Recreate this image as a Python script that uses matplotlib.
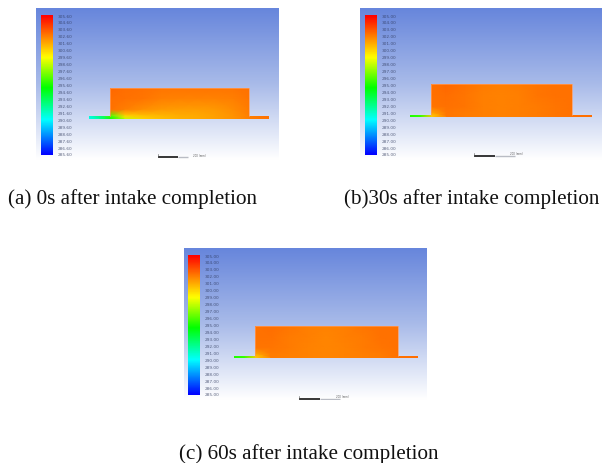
import numpy as np
import matplotlib
matplotlib.use('Agg')
import matplotlib.pyplot as plt
from matplotlib.colors import LinearSegmentedColormap
from matplotlib.patches import Polygon

# temperature labels on the colour bars
labels_a = ['305.60', '304.60', '303.60', '302.60', '301.60', '300.60', '299.60', '298.60', '297.60', '296.60', '295.60',
            '294.60', '293.60', '292.60', '291.60', '290.60', '289.60', '288.60', '287.60', '286.60', '285.60']
labels_bc = ['305.00', '304.00', '303.00', '302.00', '301.00', '300.00', '299.00', '298.00', '297.00', '296.00', '295.00',
             '294.00', '293.00', '292.00', '291.00', '290.00', '289.00', '288.00', '287.00', '286.00', '285.00']

# stations along the plate and through its height (fractions)
x_st = [0, 0.06, 0.117, 0.2, 0.3, 0.4, 0.5, 0.6, 0.7, 0.8, 0.889, 1]
y_st = [0, 0.35, 0.7, 0.9, 1]

# temperature, rows from top to bottom
temp_a = [
    [303.0, 303.0, 303.1, 303.0, 302.9, 302.8, 302.8, 302.8, 302.8, 302.8, 302.9, 302.9],
    [303.0, 303.0, 303.0, 302.9, 302.8, 302.6, 302.5, 302.5, 302.5, 302.6, 302.8, 302.9],
    [303.0, 303.0, 302.9, 302.6, 302.2, 302.0, 301.9, 301.9, 302.0, 302.3, 302.7, 302.9],
    [291.5, 293.0, 296.5, 300.6, 301.0, 301.3, 301.5, 301.6, 301.8, 302.1, 302.6, 302.9],
    [290.5, 292.5, 295.0, 298.5, 300.6, 301.1, 301.4, 301.6, 301.8, 302.1, 302.6, 302.9],
]
temp_b = [
    [302.3, 302.3, 302.3, 302.5, 302.3, 302.1, 302.0, 302.1, 302.2, 302.3, 302.3, 302.4],
    [302.3, 302.3, 302.3, 302.4, 302.2, 302.0, 301.9, 302.0, 302.2, 302.3, 302.3, 302.4],
    [302.2, 302.2, 302.2, 302.3, 302.2, 302.0, 301.9, 302.0, 302.1, 302.2, 302.3, 302.4],
    [295.3, 295.8, 301.0, 302.2, 302.1, 302.0, 301.9, 302.0, 302.1, 302.2, 302.3, 302.4],
    [295.0, 295.6, 300.0, 302.2, 302.1, 302.0, 301.9, 302.0, 302.1, 302.2, 302.3, 302.4],
]
temp_c = [
    [302.3, 302.3, 302.3, 302.4, 302.2, 302.0, 301.9, 302.0, 302.2, 302.3, 302.3, 302.4],
    [302.3, 302.3, 302.3, 302.3, 302.1, 302.0, 301.8, 302.0, 302.1, 302.3, 302.3, 302.4],
    [302.2, 302.2, 302.2, 302.2, 302.1, 301.9, 301.8, 301.9, 302.1, 302.2, 302.3, 302.4],
    [295.3, 295.8, 301.0, 302.1, 302.0, 301.9, 301.8, 301.9, 302.0, 302.1, 302.3, 302.4],
    [295.0, 295.6, 300.0, 302.1, 302.0, 301.9, 301.8, 301.9, 302.0, 302.1, 302.3, 302.4],
]

captions = ['(a) 0s after intake completion', '(b)30s after intake completion', '(c) 60s after intake completion']

W, H = 603, 464
rainbow = LinearSegmentedColormap.from_list('fluent', [(0, '#0000ff'), (0.25, '#00ffff'), (0.48, '#00ff00'), (0.7, '#ffff00'), (1, '#ff0000')])
sky = LinearSegmentedColormap.from_list('sky', ['#6786dc', '#a9bbe9', '#ffffff'])

plt.rcParams['font.family'] = ['Liberation Serif']
fig = plt.figure(figsize=(W / 100, H / 100), dpi=100)


def panel(box, body, fin, temp, labels, bar_x, scale):
    # box = left, top, right, bottom of the picture in pixels
    l, t, r, b = box
    ax = fig.add_axes([l / W, 1 - b / H, (r - l) / W, (b - t) / H])
    ax.set_xlim(l, r)
    ax.set_ylim(b, t)
    ax.axis('off')
    ax.imshow(np.linspace(0, 1, 200).reshape(-1, 1), extent=(l, r, b, t), cmap=sky, aspect='auto')

    # colour bar
    vmin, vmax = float(labels[-1]), float(labels[0])
    bar_t, bar_b = t + 7, b - 5
    ax.imshow(np.linspace(vmax, vmin, 200).reshape(-1, 1), extent=(bar_x, bar_x + 12, bar_b, bar_t),
              cmap=rainbow, vmin=vmin, vmax=vmax, aspect='auto')
    for lab, y in zip(labels, np.linspace(bar_t + 0.5, bar_b - 0.5, len(labels))):
        ax.text(bar_x + 17, y, lab, fontsize=3.1, color='#2b3558', va='center', ha='left',
                family=['DejaVu Sans'], alpha=0.75)

    # plate with the fins either side
    x0, x1, y0, y1 = body
    fin_l, fin_r, fin_t = fin
    xs = fin_l + np.array(x_st) * (fin_r - fin_l)
    ys = y0 + np.array(y_st) * (y1 - y0)
    X, Y = np.meshgrid(xs, ys)
    mesh = ax.pcolormesh(X, Y, np.array(temp), shading='gouraud', cmap=rainbow, vmin=vmin, vmax=vmax)
    outline = Polygon([(fin_l, y1), (fin_l, fin_t), (x0, fin_t), (x0, y0), (x1, y0), (x1, fin_t), (fin_r, fin_t), (fin_r, y1)],
                      transform=ax.transData, fill=False, edgecolor='none')
    ax.add_patch(outline)
    mesh.set_clip_path(outline)
    # soft edge of the body
    ax.plot([x0, x0, x1, x1], [fin_t, y0, y0, fin_t], color='#ff9a5a', lw=0.5)

    # scale bar
    sx, sy, black_len, grey_len, lab_x, lab_y = scale
    ax.plot([sx, sx + black_len], [sy, sy], color='black', lw=1.1, solid_capstyle='butt')
    ax.plot([sx + black_len, sx + black_len + grey_len], [sy, sy], color='#b9bcc4', lw=1.0, solid_capstyle='butt')
    ax.plot([sx, sx], [sy - 3, sy], color='#555555', lw=0.4)
    ax.text(lab_x, lab_y, '200 (mm)', fontsize=1.9, color='#333333', va='center', family=['DejaVu Sans'], alpha=0.8)
    ax.set_xlim(l, r)
    ax.set_ylim(b, t)


panel((36, 9, 279, 161), (110, 249, 89, 120), (89, 269, 117), temp_a, labels_a, 41, (158, 158, 20, 10, 193, 156))
panel((360, 9, 602, 161), (431, 572, 85, 117.5), (410, 592, 115.5), temp_b, labels_bc, 365, (474, 157, 21, 20, 510, 154))
panel((184, 249, 427, 401), (255, 398, 327, 358.5), (234, 418, 356.5), temp_c, labels_bc, 188, (299, 399.5, 21, 20, 336, 397))

fig.text(8 / W, 1 - 199.5 / H, captions[0], fontsize=15.2, color='#111111', va='center', ha='left')
fig.text(344 / W, 1 - 199.5 / H, captions[1], fontsize=15.2, color='#111111', va='center', ha='left')
fig.text(179 / W, 1 - 454.5 / H, captions[2], fontsize=15.2, color='#111111', va='center', ha='left')

fig.savefig('out.png', dpi=100)
